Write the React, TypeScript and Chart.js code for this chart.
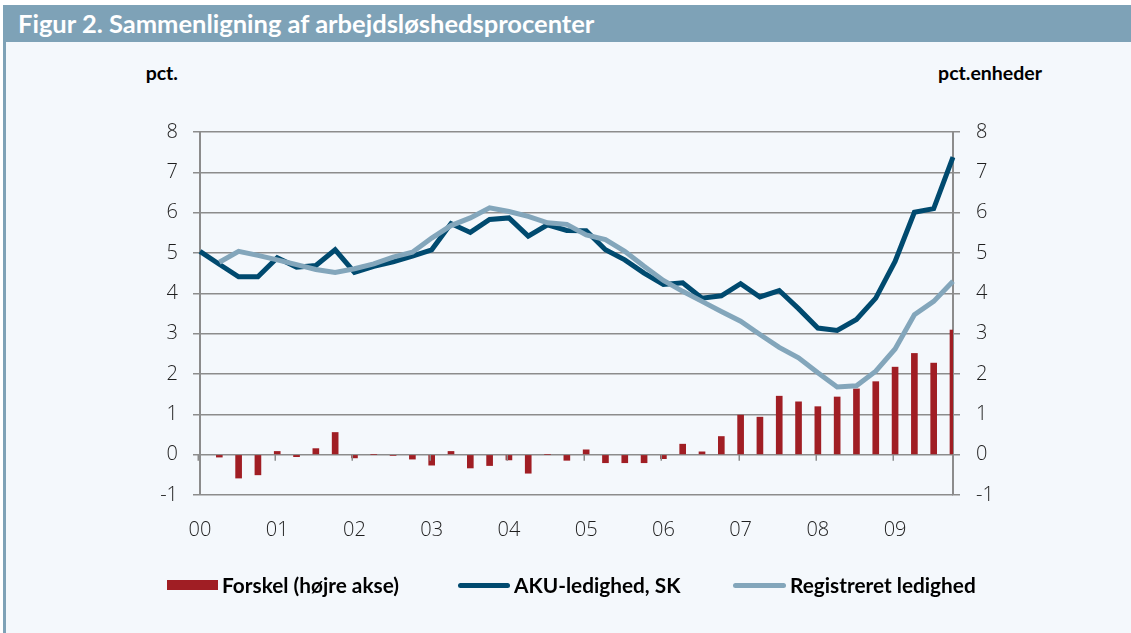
import React, { useEffect, useRef } from 'react';
import { Chart, registerables } from 'chart.js';

Chart.register(...registerables);

const categories = [
  '00K1', '00K2', '00K3', '00K4', '01K1', '01K2', '01K3', '01K4',
  '02K1', '02K2', '02K3', '02K4', '03K1', '03K2', '03K3', '03K4',
  '04K1', '04K2', '04K3', '04K4', '05K1', '05K2', '05K3', '05K4',
  '06K1', '06K2', '06K3', '06K4', '07K1', '07K2', '07K3', '07K4',
  '08K1', '08K2', '08K3', '08K4', '09K1', '09K2', '09K3', '09K4',
];

const yearLabels = ['00', '01', '02', '03', '04', '05', '06', '07', '08', '09'];

const akuLedighed = [
  5.04, 4.72, 4.41, 4.41, 4.88, 4.65, 4.69, 5.08, 4.52, 4.67,
  4.78, 4.92, 5.08, 5.73, 5.51, 5.83, 5.87, 5.42, 5.70, 5.56,
  5.55, 5.08, 4.83, 4.50, 4.22, 4.26, 3.88, 3.94, 4.24, 3.91,
  4.07, 3.62, 3.14, 3.08, 3.35, 3.88, 4.79, 6.01, 6.10, 7.38,
];

const registreretLedighed = [
  null, 4.77, 5.04, 4.94, 4.83, 4.71, 4.59, 4.52, 4.61, 4.73,
  4.90, 5.02, 5.37, 5.68, 5.87, 6.12, 6.03, 5.91, 5.75, 5.71,
  5.45, 5.33, 5.04, 4.67, 4.32, 4.05, 3.80, 3.55, 3.31, 2.98,
  2.66, 2.40, 2.03, 1.68, 1.71, 2.07, 2.62, 3.47, 3.80, 4.30,
];

const forskel = [
  null, -0.06, -0.58, -0.50, 0.08, -0.05, 0.15, 0.55, -0.08, 0,
  -0.02, -0.11, -0.26, 0.08, -0.33, -0.27, -0.13, -0.46, 0, -0.14,
  0.12, -0.20, -0.20, -0.20, -0.10, 0.26, 0.07, 0.45, 0.98, 0.93,
  1.45, 1.31, 1.19, 1.43, 1.63, 1.81, 2.17, 2.51, 2.27, 3.09,
];

const COLORS = {
  bar: '#a01e24',
  aku: '#004a6f',
  reg: '#83a6bb',
  grid: '#8c8c8c',
  title: '#7ea2b7',
  panel: '#f4f8fc',
  text: '#1e1e1e',
};

const tickFont = { family: "'Open Sans', sans-serif", size: 20, weight: '300' as any };

const zeroTicksPlugin = {
  id: 'zeroTicks',
  afterDatasetsDraw(chart: any) {
    const xs = chart.scales.x;
    const ys = chart.scales.y;
    const ctx = chart.ctx;
    const y0 = ys.getPixelForValue(0);
    ctx.save();
    ctx.strokeStyle = COLORS.grid;
    ctx.lineWidth = 1.5;
    categories.forEach((_, i) => {
      if (i % 4 === 0) {
        const px = Math.round(xs.getPixelForValue(i) - 2) + 0.25;
        ctx.beginPath();
        ctx.moveTo(px, y0);
        ctx.lineTo(px, y0 + 6);
        ctx.stroke();
      }
    });
    ctx.restore();
  },
};

export default function App() {
  const canvasRef = useRef<HTMLCanvasElement | null>(null);

  useEffect(() => {
    const prevMargin = document.body.style.margin;
    document.body.style.margin = '0';
    const canvas = canvasRef.current;
    if (!canvas) return;
    const chart = new Chart(canvas, {
      type: 'bar',
      data: {
        labels: categories,
        datasets: [
          {
            type: 'line',
            label: 'Registreret ledighed',
            data: registreretLedighed as any,
            borderColor: COLORS.reg,
            backgroundColor: COLORS.reg,
            borderWidth: 5,
            pointRadius: 0,
            tension: 0,
            borderJoinStyle: 'miter',
            yAxisID: 'y',
            order: 1,
          } as any,
          {
            type: 'line',
            label: 'AKU-ledighed, SK',
            data: akuLedighed,
            borderColor: COLORS.aku,
            backgroundColor: COLORS.aku,
            borderWidth: 5,
            pointRadius: 0,
            tension: 0,
            borderJoinStyle: 'miter',
            yAxisID: 'y',
            order: 2,
          } as any,
          {
            type: 'bar',
            label: 'Forskel (højre akse)',
            data: forskel as any,
            backgroundColor: COLORS.bar,
            borderWidth: 0,
            barThickness: 6,
            yAxisID: 'y1',
            order: 3,
          } as any,
        ],
      },
      options: {
        responsive: false,
        maintainAspectRatio: false,
        animation: false,
        layout: { padding: { left: 150, right: 128, top: 132, bottom: 88 } },
        plugins: {
          legend: { display: false },
          tooltip: { enabled: false },
        },
        scales: {
          x: {
            offset: false,
            grid: { display: false, drawTicks: false },
            border: { display: false },
            ticks: {
              autoSkip: false,
              maxRotation: 0,
              minRotation: 0,
              padding: 23,
              color: COLORS.text,
              font: tickFont,
              callback: (_v: any, i: number) => (i % 4 === 0 ? yearLabels[i / 4] : ''),
            },
            afterFit: (s: any) => {
              s.height = 50;
            },
          },
          y: {
            position: 'left',
            min: -1,
            max: 8,
            ticks: { stepSize: 1, padding: 15, color: COLORS.text, font: tickFont },
            grid: { color: COLORS.grid, lineWidth: 1.5, tickLength: 7 },
            border: { display: true, color: COLORS.grid, width: 2 },
            afterFit: (s: any) => {
              s.width = 50;
            },
          },
          y1: {
            position: 'right',
            min: -1,
            max: 8,
            ticks: { stepSize: 1, padding: 16, color: COLORS.text, font: tickFont },
            grid: { drawOnChartArea: false, color: COLORS.grid, lineWidth: 1.5, tickLength: 7 },
            border: { display: true, color: COLORS.grid, width: 2 },
            afterFit: (s: any) => {
              s.width = 50;
            },
          },
        },
      } as any,
      plugins: [zeroTicksPlugin],
    });
    return () => {
      chart.destroy();
      document.body.style.margin = prevMargin;
    };
  }, []);

  const legendText: React.CSSProperties = {
    fontFamily: "Lato, 'Open Sans', sans-serif",
    fontWeight: 700,
    fontSize: 20.8,
    color: '#000',
    marginLeft: 4,
    whiteSpace: 'nowrap',
    lineHeight: '24px',
  };
  const legendItem: React.CSSProperties = {
    position: 'absolute',
    top: 573,
    height: 24,
    display: 'flex',
    alignItems: 'center',
  };
  const unitText: React.CSSProperties = {
    position: 'absolute',
    top: 61,
    fontFamily: "Lato, 'Open Sans', sans-serif",
    fontWeight: 700,
    fontSize: 19.5,
    lineHeight: '24px',
    color: '#000',
    whiteSpace: 'nowrap',
  };

  return (
    <div
      style={{
        position: 'absolute',
        left: 0,
        top: 0,
        width: 1131,
        height: 633,
        background: '#ffffff',
        overflow: 'hidden',
      }}
    >
      <div
        style={{
          position: 'absolute',
          left: 3,
          top: 5,
          width: 1128,
          height: 37,
          background: COLORS.title,
          color: '#ffffff',
          fontFamily: "Lato, 'Open Sans', sans-serif",
          fontWeight: 700,
          fontSize: 25.5,
          lineHeight: '37px',
          paddingLeft: 15,
          boxSizing: 'border-box',
          whiteSpace: 'nowrap',
        }}
      >
        Figur 2. Sammenligning af arbejdsløshedsprocenter
      </div>
      <div
        style={{
          position: 'absolute',
          left: 3,
          top: 42,
          width: 1128,
          height: 591,
          background: COLORS.panel,
          borderLeft: `3px solid ${COLORS.title}`,
          boxSizing: 'border-box',
        }}
      />
      <div style={{ ...unitText, right: 1131 - 178 }}>pct.</div>
      <div style={{ ...unitText, right: 1131 - 1042 }}>pct.enheder</div>
      <canvas
        ref={canvasRef}
        width={1131}
        height={633}
        style={{ position: 'absolute', left: 0, top: 0, width: 1131, height: 633, display: 'block' }}
      />
      <div style={{ ...legendItem, left: 167 }}>
        <span style={{ display: 'inline-block', width: 51, height: 10, background: COLORS.bar }} />
        <span style={legendText}>Forskel (højre akse)</span>
      </div>
      <div style={{ ...legendItem, left: 458 }}>
        <span
          style={{ display: 'inline-block', width: 52, height: 5, borderRadius: 3, background: COLORS.aku }}
        />
        <span style={legendText}>AKU-ledighed, SK</span>
      </div>
      <div style={{ ...legendItem, left: 733 }}>
        <span
          style={{ display: 'inline-block', width: 53, height: 5, borderRadius: 3, background: COLORS.reg }}
        />
        <span style={legendText}>Registreret ledighed</span>
      </div>
    </div>
  );
}
